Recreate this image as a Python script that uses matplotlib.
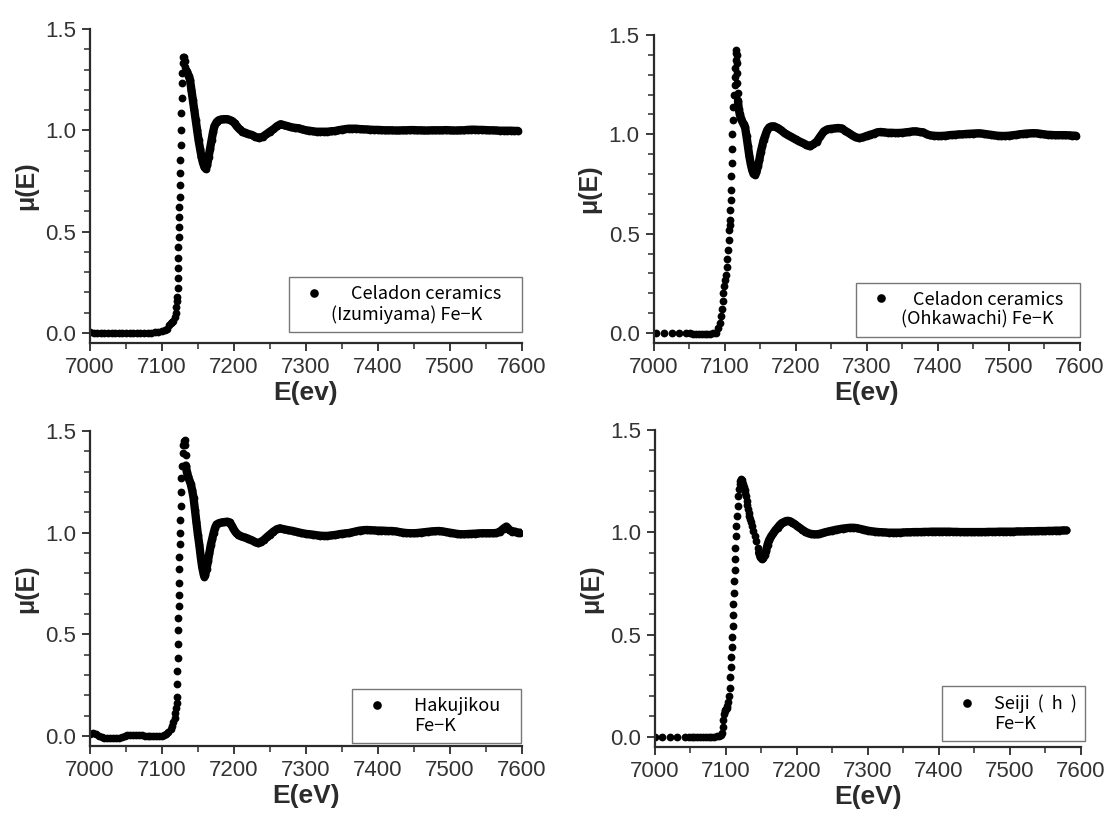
import matplotlib
matplotlib.use("Agg")
import matplotlib.pyplot as plt
from matplotlib.lines import Line2D
from matplotlib.ticker import MultipleLocator

# ---------------- data: (E [eV], mu(E)) ----------------
izumiyama = [
    (7000, 0.002), (7005, 0.001), (7010, 0.0), (7015, 0.0), (7020, -0.001), (7025, -0.002),
    (7030, -0.002), (7035, -0.002), (7040, -0.003), (7045, -0.003), (7050, -0.003), (7055, -0.003),
    (7060, -0.003), (7065, -0.002), (7070, -0.002), (7075, -0.002), (7080, -0.001), (7085, 0.0),
    (7090, 0.002), (7095, 0.005), (7100, 0.01), (7104, 0.015), (7107, 0.02), (7110, 0.04),
    (7112, 0.05), (7114, 0.055), (7116, 0.06), (7118, 0.08), (7119, 0.10), (7120, 0.13),
    (7120.7, 0.155), (7121.3, 0.179), (7121.7, 0.22), (7122.1, 0.27), (7122.4, 0.319),
    (7122.7, 0.368), (7123.0, 0.426), (7123.3, 0.475), (7123.6, 0.524), (7123.9, 0.574),
    (7124.2, 0.623), (7124.5, 0.672), (7124.8, 0.73), (7125.1, 0.788), (7125.5, 0.853),
    (7125.9, 0.927), (7126.3, 1.001), (7126.8, 1.084), (7127.3, 1.158), (7127.8, 1.232),
    (7128.3, 1.281), (7128.9, 1.33), (7129.6, 1.363), (7130.5, 1.36), (7131.5, 1.34),
    (7132.5, 1.31), (7133.5, 1.30), (7135, 1.29), (7137, 1.27), (7139, 1.25), (7141, 1.20),
    (7143, 1.15), (7145, 1.10), (7147, 1.05), (7149, 1.00), (7151, 0.95), (7153, 0.91),
    (7155, 0.87), (7157, 0.84), (7159, 0.82), (7161, 0.81), (7163, 0.83), (7165, 0.87),
    (7167, 0.91), (7169, 0.95), (7171, 0.99), (7173, 1.02), (7176, 1.04), (7179, 1.05),
    (7183, 1.054), (7187, 1.055), (7191, 1.055), (7195, 1.05), (7198, 1.045), (7201, 1.035),
    (7204, 1.02), (7208, 1.005), (7212, 0.993), (7216, 0.988), (7220, 0.982), (7225, 0.977),
    (7230, 0.968), (7235, 0.962), (7240, 0.968), (7245, 0.98), (7250, 0.993), (7255, 1.005),
    (7260, 1.02), (7265, 1.03), (7270, 1.025), (7275, 1.02), (7280, 1.015), (7285, 1.012),
    (7290, 1.01), (7295, 1.005), (7300, 1.0), (7305, 0.998), (7310, 0.995), (7315, 0.993),
    (7320, 0.993), (7325, 0.993), (7330, 0.993), (7335, 0.995), (7340, 0.996), (7345, 1.0),
    (7350, 1.003), (7355, 1.006), (7360, 1.008), (7365, 1.008), (7370, 1.008), (7375, 1.006),
    (7380, 1.005), (7385, 1.004), (7390, 1.003), (7395, 1.002), (7400, 1.002), (7405, 1.001),
    (7410, 1.0), (7415, 1.0), (7420, 1.0), (7425, 0.999), (7430, 0.999), (7435, 1.0),
    (7440, 1.0), (7445, 1.001), (7450, 1.001), (7455, 1.0), (7460, 1.0), (7465, 0.999),
    (7470, 0.999), (7475, 1.0), (7480, 1.0), (7485, 1.0), (7490, 1.0), (7495, 1.001),
    (7500, 1.0), (7505, 0.999), (7510, 0.999), (7515, 1.0), (7520, 1.0), (7525, 1.002),
    (7530, 1.003), (7535, 1.003), (7540, 1.002), (7545, 1.002), (7550, 1.001), (7555, 1.0),
    (7560, 1.0), (7565, 0.999), (7570, 0.998), (7575, 0.998), (7580, 0.998), (7585, 0.998),
    (7590, 0.997), (7595, 0.997),
]

ohkawachi = [
    (7004, 0.0), (7015, 0.0), (7026, 0.0), (7036, 0.0), (7046, 0.0), (7052, -0.002),
    (7056, -0.003), (7060, -0.004), (7064, -0.005), (7068, -0.005), (7072, -0.005),
    (7076, -0.004), (7080, -0.003), (7084, -0.002), (7088, 0.0), (7091, 0.025), (7094, 0.05),
    (7095.5, 0.084), (7096.5, 0.12), (7097.5, 0.16), (7098.3, 0.201), (7099.3, 0.235),
    (7100.7, 0.268), (7102.1, 0.293), (7103.1, 0.332), (7104, 0.374), (7105.4, 0.419),
    (7105.9, 0.47), (7106.8, 0.52), (7107.3, 0.545), (7107.7, 0.57), (7108.2, 0.621),
    (7108.7, 0.671), (7109.2, 0.721), (7109.6, 0.788), (7110.1, 0.856), (7110.6, 0.928),
    (7111, 1.003), (7111.5, 1.07), (7112.4, 1.14), (7113.4, 1.199), (7114.2, 1.25),
    (7114.8, 1.291), (7115.3, 1.334), (7115.7, 1.375), (7116.2, 1.409), (7116.7, 1.426),
    (7117.1, 1.40), (7117.5, 1.36), (7117.8, 1.31), (7118.1, 1.26), (7118.5, 1.21),
    (7119, 1.17), (7120, 1.13), (7121.5, 1.10), (7123, 1.08), (7125, 1.065), (7127, 1.05),
    (7129, 1.035), (7131, 0.99), (7133, 0.94), (7135, 0.89), (7137, 0.85), (7139, 0.82),
    (7141, 0.80), (7143, 0.797), (7145, 0.81), (7147, 0.84), (7149, 0.87), (7151, 0.91),
    (7153, 0.94), (7155, 0.97), (7157, 0.99), (7160, 1.02), (7163, 1.035), (7166, 1.04),
    (7170, 1.04), (7175, 1.032), (7180, 1.02), (7185, 1.005), (7190, 0.995), (7195, 0.985),
    (7200, 0.975), (7205, 0.965), (7210, 0.957), (7215, 0.948), (7220, 0.94), (7225, 0.95),
    (7230, 0.964), (7235, 0.99), (7240, 1.015), (7245, 1.025), (7250, 1.028), (7255, 1.03),
    (7260, 1.032), (7265, 1.03), (7270, 1.018), (7275, 1.007), (7280, 0.995), (7285, 0.985),
    (7290, 0.981), (7295, 0.985), (7300, 0.992), (7305, 0.998), (7310, 1.003), (7315, 1.01),
    (7320, 1.012), (7325, 1.01), (7330, 1.008), (7335, 1.008), (7340, 1.007), (7345, 1.007),
    (7350, 1.008), (7355, 1.01), (7360, 1.012), (7365, 1.015), (7370, 1.015), (7375, 1.012),
    (7380, 1.01), (7385, 1.0), (7390, 0.995), (7395, 0.993), (7400, 0.992), (7405, 0.992),
    (7410, 0.993), (7415, 0.995), (7420, 0.997), (7425, 0.998), (7430, 1.0), (7435, 1.0),
    (7440, 1.002), (7445, 1.003), (7450, 1.004), (7455, 1.005), (7460, 1.005), (7465, 1.003),
    (7470, 1.0), (7475, 0.998), (7480, 0.995), (7485, 0.993), (7490, 0.992), (7495, 0.992),
    (7500, 0.993), (7505, 0.995), (7510, 0.997), (7515, 1.0), (7520, 1.002), (7525, 1.004),
    (7530, 1.005), (7535, 1.006), (7540, 1.005), (7545, 1.003), (7550, 1.0), (7555, 0.998),
    (7560, 0.997), (7565, 0.996), (7570, 0.996), (7575, 0.996), (7580, 0.996), (7585, 0.995),
    (7590, 0.994), (7595, 0.993),
]

hakujikou = [
    (7000, 0.01), (7004, 0.012), (7008, 0.008), (7012, 0.0), (7016, -0.006), (7020, -0.01),
    (7024, -0.012), (7028, -0.012), (7032, -0.011), (7036, -0.01), (7040, -0.01),
    (7044, -0.008), (7048, -0.002), (7052, 0.003), (7056, 0.005), (7060, 0.004), (7064, 0.005),
    (7068, 0.003), (7072, 0.002), (7076, 0.0), (7080, -0.002), (7084, -0.003), (7088, -0.003),
    (7092, -0.003), (7096, -0.002), (7100, 0.0), (7103, 0.004), (7106, 0.01), (7109, 0.02),
    (7112, 0.035), (7114, 0.05), (7116, 0.07), (7117.5, 0.09), (7118.5, 0.11), (7119.5, 0.135),
    (7120.5, 0.16), (7121, 0.19), (7121.3, 0.255), (7121.6, 0.32), (7121.9, 0.385),
    (7122.2, 0.45), (7122.5, 0.52), (7122.8, 0.58), (7123.1, 0.64), (7123.4, 0.695),
    (7123.7, 0.75), (7124, 0.82), (7124.3, 0.88), (7124.6, 0.945), (7125, 1.0),
    (7125.4, 1.06), (7125.9, 1.13), (7126.5, 1.20), (7127.2, 1.27), (7128, 1.33),
    (7129, 1.39), (7130, 1.43), (7131, 1.45), (7131.6, 1.456), (7132.2, 1.43), (7132.8, 1.38),
    (7133.5, 1.33), (7134.5, 1.30), (7136, 1.28), (7138, 1.26), (7140, 1.24), (7142, 1.21),
    (7144, 1.17), (7146, 1.11), (7148, 1.05), (7150, 0.99), (7152, 0.94), (7154, 0.88),
    (7156, 0.83), (7158, 0.795), (7159, 0.784), (7160, 0.79), (7162, 0.82), (7164, 0.86),
    (7166, 0.90), (7168, 0.94), (7170, 0.97), (7172, 1.0), (7174, 1.025), (7176, 1.04),
    (7179, 1.046), (7183, 1.05), (7187, 1.052), (7191, 1.054), (7194, 1.05), (7197, 1.035),
    (7200, 1.015), (7203, 1.0), (7206, 0.99), (7210, 0.982), (7215, 0.976), (7220, 0.97),
    (7225, 0.962), (7230, 0.953), (7234, 0.948), (7238, 0.955), (7242, 0.965), (7246, 0.978),
    (7250, 0.99), (7255, 1.005), (7260, 1.017), (7264, 1.021), (7270, 1.016), (7276, 1.012),
    (7282, 1.008), (7288, 1.003), (7294, 0.998), (7300, 0.994), (7305, 0.992), (7310, 0.99),
    (7315, 0.987), (7320, 0.985), (7325, 0.984), (7330, 0.984), (7335, 0.986), (7340, 0.988),
    (7345, 0.991), (7350, 0.994), (7355, 0.996), (7360, 0.998), (7365, 1.002), (7370, 1.006),
    (7375, 1.01), (7380, 1.012), (7385, 1.013), (7390, 1.012), (7395, 1.011), (7400, 1.01),
    (7405, 1.01), (7410, 1.009), (7415, 1.008), (7420, 1.008), (7425, 1.006), (7430, 1.003),
    (7435, 1.0), (7440, 0.998), (7445, 0.997), (7450, 0.997), (7455, 0.998), (7460, 1.0),
    (7465, 1.002), (7470, 1.004), (7475, 1.006), (7480, 1.007), (7485, 1.008), (7490, 1.006),
    (7495, 1.003), (7500, 1.0), (7505, 0.997), (7510, 0.994), (7515, 0.992), (7520, 0.992),
    (7525, 0.993), (7530, 0.994), (7535, 0.995), (7540, 0.996), (7545, 0.997), (7550, 0.997),
    (7555, 0.997), (7560, 0.997), (7565, 0.998), (7570, 1.005), (7575, 1.02), (7579, 1.03),
    (7583, 1.015), (7587, 1.005), (7591, 1.005), (7595, 1.0), (7598, 1.0),
]

seiji = [
    (7000, 0.0), (7010.5, 0.0), (7021, 0.0), (7031.5, 0.0), (7042, 0.0), (7048, 0.0),
    (7052, 0.0), (7056, 0.0), (7060, 0.0), (7064, 0.0), (7068, 0.0), (7072, 0.0), (7076, 0.0),
    (7080, 0.0), (7084, 0.001), (7088, 0.002), (7091, 0.004), (7093, 0.008), (7094.5, 0.02),
    (7095.5, 0.05), (7096.5, 0.08), (7097.5, 0.11), (7098.5, 0.125), (7099.5, 0.13),
    (7100.5, 0.135), (7101.5, 0.14), (7102.5, 0.15), (7103.5, 0.17), (7104.5, 0.2),
    (7105.5, 0.24), (7106.3, 0.29), (7107, 0.34), (7107.7, 0.39), (7108.4, 0.44),
    (7109, 0.49), (7109.6, 0.54), (7110.2, 0.595), (7110.8, 0.65), (7111.4, 0.705),
    (7112, 0.76), (7112.6, 0.815), (7113.2, 0.87), (7113.8, 0.925), (7114.5, 0.98),
    (7115.2, 1.03), (7116, 1.08), (7116.8, 1.13), (7117.6, 1.175), (7118.5, 1.21),
    (7119.5, 1.235), (7120.5, 1.25), (7121.5, 1.258), (7122.5, 1.255), (7123.5, 1.245),
    (7124.5, 1.235), (7125.5, 1.22), (7126.5, 1.205), (7127.5, 1.19), (7128.5, 1.175),
    (7129.5, 1.155), (7130.5, 1.135), (7131.5, 1.115), (7132.5, 1.095), (7133.5, 1.08),
    (7134.5, 1.065), (7135.5, 1.05), (7137, 1.03), (7139, 1.005), (7141, 0.98), (7143, 0.955),
    (7145, 0.925), (7147, 0.9), (7149, 0.88), (7151, 0.87), (7153, 0.875), (7155, 0.89),
    (7157, 0.91), (7159, 0.94), (7161, 0.96), (7164, 0.98), (7167, 0.995), (7170, 1.01),
    (7173, 1.022), (7176, 1.035), (7179, 1.045), (7182, 1.05), (7185, 1.055), (7188, 1.056),
    (7191, 1.053), (7194, 1.047), (7197, 1.04), (7200, 1.032), (7204, 1.022), (7208, 1.012),
    (7212, 1.003), (7216, 0.996), (7220, 0.992), (7224, 0.99), (7228, 0.99), (7232, 0.992),
    (7236, 0.996), (7240, 1.0), (7245, 1.004), (7250, 1.008), (7255, 1.012), (7260, 1.015),
    (7265, 1.018), (7270, 1.02), (7275, 1.022), (7280, 1.022), (7285, 1.02), (7290, 1.016),
    (7295, 1.012), (7300, 1.008), (7305, 1.005), (7310, 1.003), (7315, 1.001), (7320, 1.0),
    (7325, 0.999), (7330, 0.998), (7335, 0.998), (7340, 0.998), (7345, 0.998), (7350, 0.999),
    (7355, 1.0), (7360, 1.0), (7365, 1.001), (7370, 1.001), (7375, 1.001), (7380, 1.002),
    (7385, 1.002), (7390, 1.003), (7395, 1.003), (7400, 1.003), (7405, 1.003), (7410, 1.003),
    (7415, 1.003), (7420, 1.002), (7425, 1.002), (7430, 1.001), (7435, 1.001), (7440, 1.001),
    (7445, 1.001), (7450, 1.001), (7455, 1.001), (7460, 1.001), (7465, 1.001), (7470, 1.002),
    (7475, 1.002), (7480, 1.002), (7485, 1.003), (7490, 1.003), (7495, 1.003), (7500, 1.003),
    (7505, 1.003), (7510, 1.004), (7515, 1.004), (7520, 1.004), (7525, 1.005), (7530, 1.005),
    (7535, 1.005), (7540, 1.006), (7545, 1.006), (7550, 1.006), (7555, 1.007), (7560, 1.007),
    (7565, 1.008), (7570, 1.008), (7575, 1.009), (7580, 1.009),
]

x_ticks = [7000, 7100, 7200, 7300, 7400, 7500, 7600]
y_ticks = [0.0, 0.5, 1.0, 1.5]
x_labels = ["E(ev)", "E(ev)", "E(eV)", "E(eV)"]
legend_first = ["     Celadon ceramics   ", "   Celadon ceramics  ", "Hakujikou   ",
                "Seiji  (  h  )"]
legend_second = ["(Izumiyama) Fe\u2212K", "(Ohkawachi) Fe\u2212K", "Fe\u2212K", "Fe\u2212K"]
series = [izumiyama, ohkawachi, hakujikou, seiji]

# ---------------- layout / style ----------------
W, H = 1115, 819
rects_px = [(90, 29, 521.5, 343), (653.5, 35, 1079.5, 343),
            (90, 431, 521.5, 746), (654.7, 430, 1080.7, 747)]
legend_anchor = [(1.0, 0.035), (1.0, 0.02), (0.998, 0.01), (1.01, 0.019)]
legend_textpad = [0.0, 0.17, 1.1, 0.55]
# energy from which the measured points overlap into a continuous band
band_from = [7135, 7119, 7133, 7146]

plt.rcParams['font.family'] = ['Liberation Sans', 'DejaVu Sans']
fig = plt.figure(figsize=(W / 100, H / 100), dpi=100)
spine_col = "#2b2b2b"

for i, data in enumerate(series):
    l, t, r, b = rects_px[i]
    ax = fig.add_axes([l / W, 1 - b / H, (r - l) / W, (b - t) / H])
    e_vals = [p[0] for p in data]
    mu_vals = [p[1] for p in data]
    band = [p for p in data if p[0] >= band_from[i]]
    ax.plot([p[0] for p in band], [p[1] for p in band], linestyle="-", linewidth=6.0,
            color="black", solid_joinstyle="round", solid_capstyle="round")
    ax.plot(e_vals, mu_vals, linestyle="none", marker="o", markersize=5.6,
            color="black", markeredgewidth=0)
    ax.set_xlim(7000, 7600)
    ax.set_ylim(-0.05, 1.5)
    for s in ("top", "right"):
        ax.spines[s].set_visible(False)
    for s in ("left", "bottom"):
        ax.spines[s].set_linewidth(1.6)
        ax.spines[s].set_color(spine_col)
    ax.set_xticks(x_ticks)
    ax.set_yticks(y_ticks)
    ax.set_yticklabels([f"{v:.1f}" for v in y_ticks])
    ax.xaxis.set_minor_locator(MultipleLocator(50))
    ax.yaxis.set_minor_locator(MultipleLocator(0.1))
    ax.tick_params(which="major", direction="out", length=6, width=1.3, color=spine_col,
                   labelsize=16, labelcolor="#333333", pad=4)
    ax.tick_params(which="minor", direction="out", length=4, width=1.1, color=spine_col)
    ax.set_xlabel(x_labels[i], fontsize=19, fontweight="bold", color="#2b2b2b", labelpad=2)
    ax.set_ylabel("\u03bc(E)", fontsize=18, fontweight="bold", color="#2b2b2b", labelpad=5)

    h1 = Line2D([], [], linestyle="none", marker="o", markersize=6.2, color="black",
                markeredgewidth=0)
    h2 = Line2D([], [], linestyle="none", marker="")
    leg = ax.legend([h1, h2], [legend_first[i], legend_second[i]], loc="lower right",
                    bbox_to_anchor=legend_anchor[i], frameon=True, fancybox=False,
                    prop={"family": ["Noto Sans CJK JP", "DejaVu Sans"], "size": 13},
                    handlelength=1.9, handletextpad=legend_textpad[i], labelspacing=0.1,
                    borderpad=0.45, borderaxespad=0.0)
    leg.get_frame().set_edgecolor("#555555")
    leg.get_frame().set_linewidth(1.0)

fig.savefig("out.png", dpi=100)
